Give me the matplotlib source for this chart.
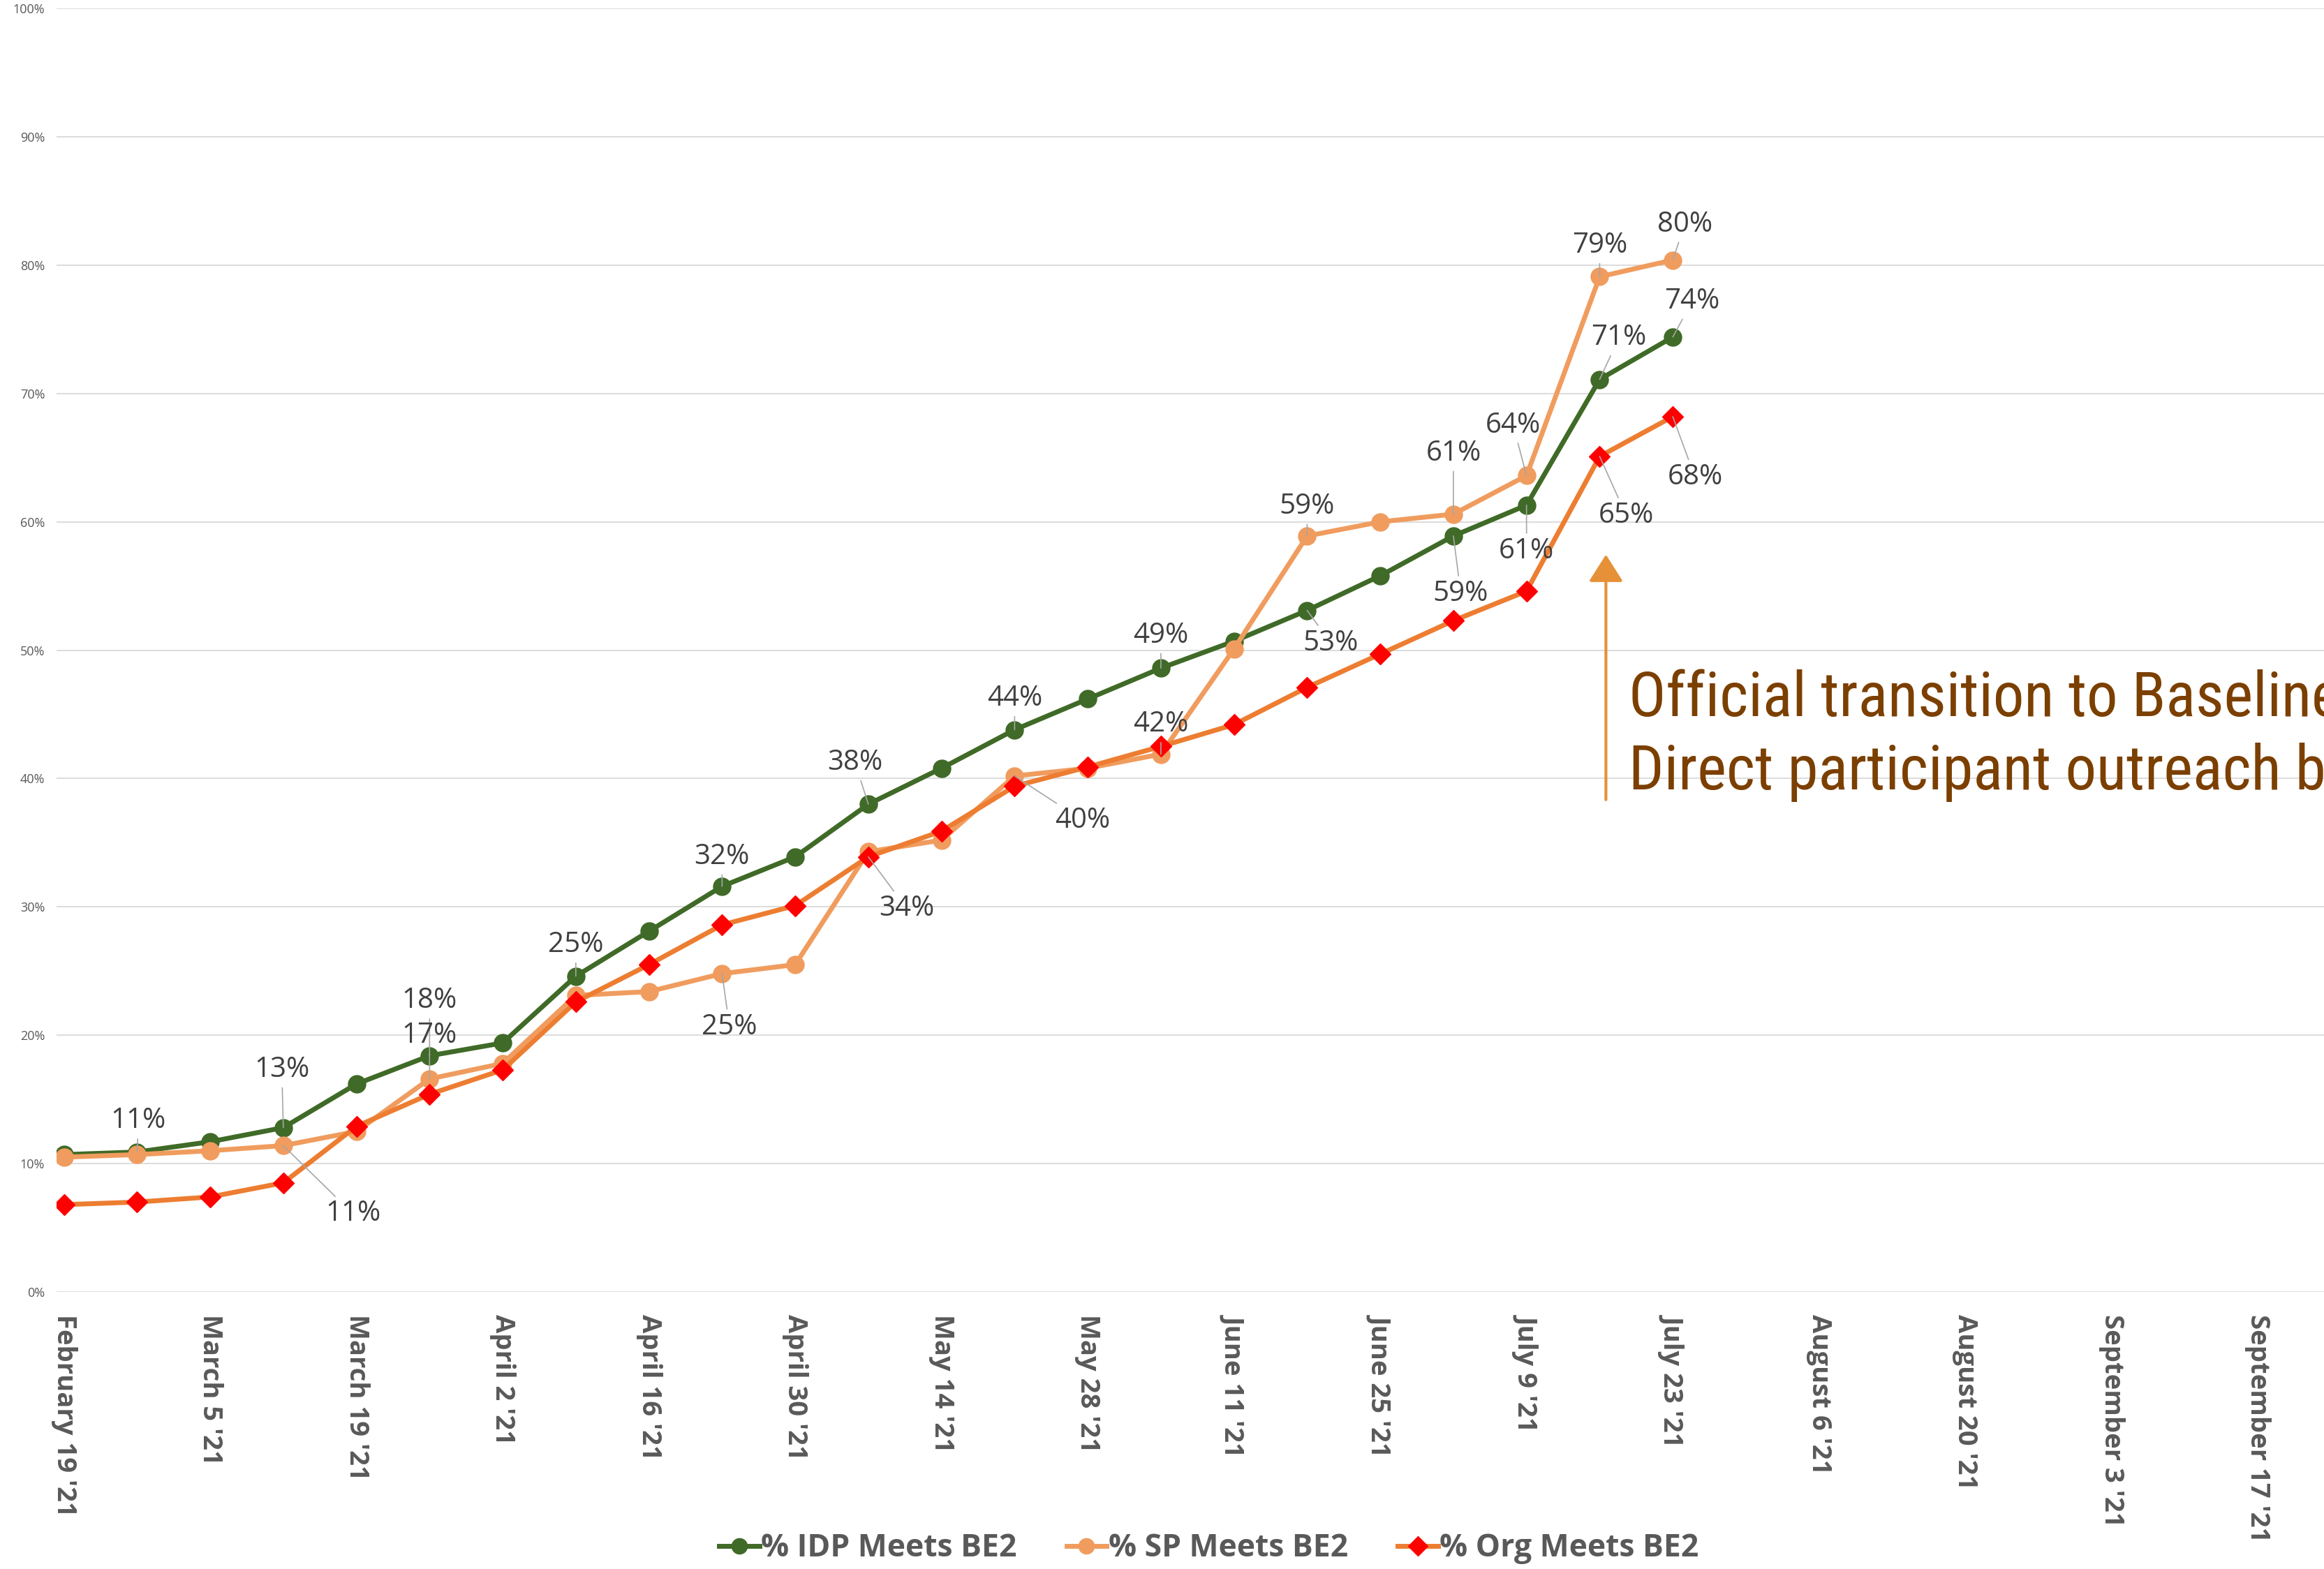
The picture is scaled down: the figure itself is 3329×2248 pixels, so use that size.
import datetime as dt
import matplotlib
matplotlib.use("Agg")
import matplotlib.pyplot as plt
import matplotlib.dates as mdates
from matplotlib import font_manager
from matplotlib.lines import Line2D
from matplotlib.ticker import FixedLocator, FuncFormatter

# weekly snapshots, Feb 19 '21 .. Jul 23 '21
start = dt.date(2021, 2, 19)
weeks = [start + dt.timedelta(days=7 * i) for i in range(23)]

idp = [10.7, 10.9, 11.7, 12.8, 16.2, 18.4, 19.4, 24.6, 28.1, 31.6, 33.9, 38.0,
       40.8, 43.8, 46.2, 48.6, 50.7, 53.1, 55.8, 58.9, 61.3, 71.1, 74.4]
sp = [10.5, 10.7, 11.0, 11.4, 12.5, 16.6, 17.8, 23.1, 23.4, 24.8, 25.5, 34.3,
      35.2, 40.2, 40.8, 41.9, 50.1, 58.9, 60.0, 60.6, 63.6, 79.1, 80.4]
org = [6.8, 7.0, 7.4, 8.5, 12.9, 15.4, 17.3, 22.6, 25.5, 28.6, 30.1, 33.9,
       35.9, 39.4, 40.9, 42.5, 44.2, 47.1, 49.7, 52.3, 54.6, 65.1, 68.2]

series_names = ["% IDP Meets BE2", "% SP Meets BE2", "% Org Meets BE2"]

# tick dates every two weeks
tick_dates = [start + dt.timedelta(days=14 * i) for i in range(16)]
y_ticks = list(range(0, 101, 10))

note = "Official transition to Baseline Evaluation 2\nDirect participant outreach begins"

# which points carry a data label, and where the label sits (display px offset)
label_spots = {
    0: [(1, 1, 21), (3, -1, 39), (5, 0, 37), (7, 0, 21), (9, 0, 20), (11, -9, 28),
        (13, 0, 21), (15, 0, 22), (17, 16, -22), (19, 5, -39), (20, 0, -31),
        (21, 13, 28), (22, 13, 24)],
    1: [(3, 47, -46), (5, 0, 29), (9, 5, -36), (13, 46, -30), (15, 0, 20),
        (17, 0, 20), (19, 0, 41), (20, -9, 34), (21, 0, 21), (22, 8, 24)],
    2: [(11, 26, -35), (21, 18, -40), (22, 15, -41)],
}

GREEN = "#3F6A27"
LIGHT_OR = "#F09C5E"
ORANGE = "#ED7D31"
RED = "#FF0000"
GREY_TXT = "#595959"


def narrow_font():
    # look for an installed narrow/condensed face for the note
    names = {f.name for f in font_manager.fontManager.ttflist}
    for cand in ["Liberation Sans Narrow", "Arial Narrow", "Roboto Condensed",
                 "Open Sans Condensed", "DejaVu Sans Condensed"]:
        if cand in names:
            return dict(family=cand)
    for f in font_manager.fontManager.ttflist:
        if "Condensed" in f.fname and "Bold" not in f.fname and "Oblique" not in f.fname:
            return dict(family=f.name, stretch=f.stretch)
    return dict(family="Liberation Sans")


fig = plt.figure(figsize=(33.3, 22.48), dpi=100)
ax = fig.add_axes([0.0243, 0.1766, 0.9757, 0.818])

x = mdates.date2num(weeks)
ax.plot(x, idp, color=GREEN, lw=5, marker="o", ms=18, zorder=3,
        label=series_names[0])
ax.plot(x, sp, color=LIGHT_OR, lw=5, marker="o", ms=18, zorder=4,
        label=series_names[1])
ax.plot(x, org, color=ORANGE, lw=5, marker="D", ms=15, mfc=RED, mec=RED,
        zorder=5, label=series_names[2])

x0 = mdates.date2num(start)
ax.set_xlim(x0 - 0.71, x0 + 216.4)
ax.set_ylim(0, 100)

ax.xaxis.set_major_locator(FixedLocator(mdates.date2num(tick_dates)))
ax.xaxis.set_major_formatter(FuncFormatter(
    lambda v, p: mdates.num2date(v).strftime("%B ") + str(mdates.num2date(v).day) + " '21"))
ax.set_yticks(y_ticks)
ax.yaxis.set_major_formatter(FuncFormatter(lambda v, p: f"{v:.0f}%"))

for lab in ax.get_xticklabels():
    lab.set_rotation(270)
    lab.set_fontfamily("Open Sans")
    lab.set_fontweight("bold")
    lab.set_fontsize(27.5)
    lab.set_color(GREY_TXT)
    lab.set_va("top")
    lab.set_ha("center")
for lab in ax.get_yticklabels():
    lab.set_fontfamily("Open Sans")
    lab.set_fontsize(13)
    lab.set_color(GREY_TXT)

ax.tick_params(axis="x", length=0, pad=23)
ax.tick_params(axis="y", length=0, pad=12)
ax.grid(axis="y", color="#D9D9D9", lw=1.3)
ax.set_axisbelow(True)
for s in ax.spines.values():
    s.set_visible(False)

# data labels with leader lines
px2pt = 2.124 / 1.389
all_series = [idp, sp, org]
for k, spots in label_spots.items():
    vals = all_series[k]
    for i, dxp, dyp in spots:
        ax.annotate(f"{vals[i]:.0f}%", xy=(x[i], vals[i]),
                    xytext=(dxp * px2pt, dyp * px2pt), textcoords="offset points",
                    ha="center", va="center", fontsize=29, family="Open Sans",
                    color="#404040", zorder=6,
                    arrowprops=dict(arrowstyle="-", color="#A6A6A6", lw=1.2,
                                    shrinkA=2, shrinkB=0))

# transition arrow and note
arrow_x = x0 + 147.6
ax.annotate("", xy=(arrow_x, 57.6), xytext=(arrow_x, 38.2),
            arrowprops=dict(arrowstyle="-|>,head_width=0.38,head_length=0.6",
                            mutation_scale=40, color="#E69138", lw=3))
nf = narrow_font()
ax.text(x0 + 149.8, 43.3, note, fontsize=64, color="#7B3F00", ha="left",
        va="center", linespacing=1.3, **nf)

handles = [Line2D([], [], color=GREEN, lw=5, marker="o", ms=16),
           Line2D([], [], color=LIGHT_OR, lw=5, marker="o", ms=16),
           Line2D([], [], color=ORANGE, lw=5, marker="D", ms=14, mfc=RED, mec=RED)]
leg = fig.legend(handles, series_names, loc="center", bbox_to_anchor=(0.52, 0.013),
                 ncol=3, frameon=False, handlelength=1.3, handletextpad=0.05,
                 columnspacing=1.6, prop={"family": "Open Sans", "weight": "bold", "size": 32})
for t in leg.get_texts():
    t.set_color(GREY_TXT)

fig.savefig("out.png", dpi=100)
